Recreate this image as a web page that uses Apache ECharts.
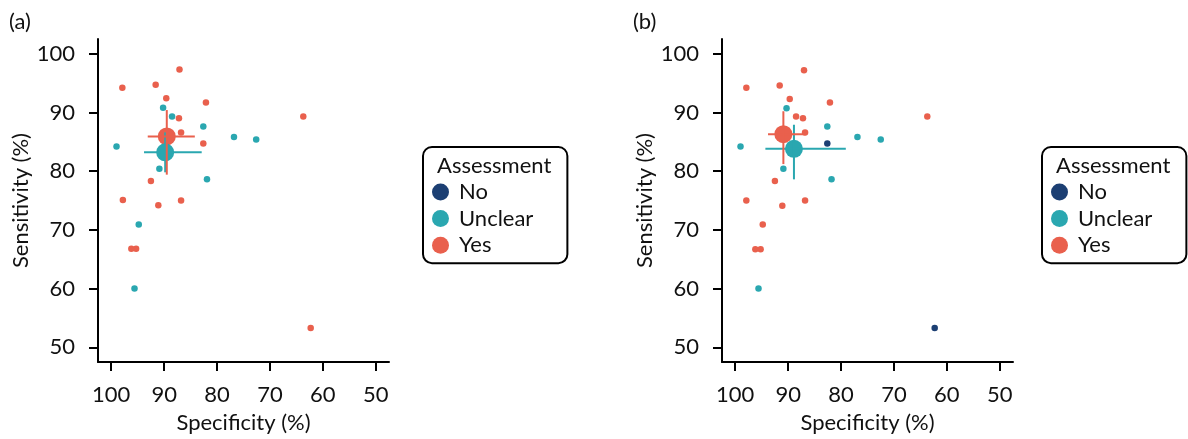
<!DOCTYPE html>
<html>
<head>
<meta charset="utf-8">
<script src="https://cdn.jsdelivr.net/npm/echarts@6/dist/echarts.min.js"></script>
<style>
html,body{margin:0;padding:0;background:#fff;}
#chart{width:1188px;height:439px;}
</style>
</head>
<body>
<div id="chart"></div>
<script>
// ---- data: [specificity %, sensitivity %] ----
const panelLabels = ['(a)', '(b)'];
const groupNames = ['No', 'Unclear', 'Yes'];
const tickValues = [50, 60, 70, 80, 90, 100];

// Panel (a)
const yesA = [[87.1,97.3],[97.9,94.2],[91.6,94.7],[89.6,92.4],[82.1,91.7],[63.7,89.3],[87.2,89.0],[86.8,86.6],[82.6,84.7],[92.5,78.3],[97.8,75.1],[86.8,75.0],[91.1,74.2],[96.2,66.8],[95.3,66.8],[62.3,53.3]];
const unclearA = [[90.2,90.8],[88.5,89.3],[82.6,87.6],[99.0,84.2],[76.8,85.8],[72.6,85.4],[90.9,80.4],[81.9,78.6],[94.8,70.9],[95.6,60.0]];
const noA = [];
// summary: [spec, sens, specLow, specHigh, sensLow, sensHigh]
const summaryYesA = [89.5, 85.9, 84.2, 93.1, 79.4, 90.4];
const summaryUnclearA = [89.8, 83.2, 82.9, 93.8, 79.8, 86.6];

// Panel (b)
const yesB = [[87.0,97.2],[97.9,94.2],[91.6,94.6],[89.7,92.3],[82.1,91.7],[63.7,89.3],[88.5,89.3],[87.2,89.0],[86.8,86.6],[92.5,78.3],[97.9,75.0],[86.8,75.0],[91.1,74.1],[94.8,70.9],[96.2,66.7],[95.2,66.7]];
const unclearB = [[90.3,90.7],[82.6,87.6],[99.0,84.2],[76.9,85.8],[72.5,85.4],[90.9,80.4],[81.8,78.6],[95.6,60.0]];
const noB = [[82.6,84.7],[62.3,53.3]];
const summaryYesB = [90.9, 86.3, 86.7, 93.8, 81.2, 90.2];
const summaryUnclearB = [88.9, 83.8, 79.1, 94.3, 78.6, 87.9];

// ---- styles ----
const COLORS = { No: '#1C3F73', Unclear: '#2AA7B0', Yes: '#E9604D' };
const FONT = 'Lato';
const FS = 22;
const TXT = '#111';

function xAxisFor(i) {
  return {
    gridIndex: i, type: 'value', inverse: true, min: 47.5, max: 102.5,
    name: 'Specificity (%)', nameLocation: 'middle', nameGap: 50,
    nameTextStyle: { fontFamily: FONT, fontSize: FS, color: TXT },
    axisLine: { show: true, onZero: false, lineStyle: { color: '#000', width: 2 } },
    axisTick: { show: true, length: 9, customValues: tickValues, lineStyle: { color: '#000', width: 2 } },
    axisLabel: { customValues: tickValues, margin: 22, fontFamily: FONT, fontSize: FS, color: TXT },
    splitLine: { show: false }
  };
}
function yAxisFor(i) {
  return {
    gridIndex: i, type: 'value', min: 47.5, max: 102.5,
    name: 'Sensitivity (%)', nameLocation: 'middle', nameGap: 66,
    nameTextStyle: { fontFamily: FONT, fontSize: FS, color: TXT },
    axisLine: { show: true, onZero: false, lineStyle: { color: '#000', width: 2 } },
    axisTick: { show: true, length: 9, customValues: tickValues, lineStyle: { color: '#000', width: 2 } },
    axisLabel: { customValues: tickValues, margin: 23, fontFamily: FONT, fontSize: FS, color: TXT },
    splitLine: { show: false }
  };
}
function points(name, data, i) {
  return { name: name, type: 'scatter', xAxisIndex: i, yAxisIndex: i, data: data,
    symbol: 'circle', symbolSize: 6.5, itemStyle: { color: COLORS[name], opacity: 1 }, z: 2, silent: true };
}
function bigPoint(name, s, i) {
  return { name: name + ' summary', type: 'scatter', xAxisIndex: i, yAxisIndex: i, data: [[s[0], s[1]]],
    symbol: 'circle', symbolSize: 18, itemStyle: { color: COLORS[name], opacity: 1 }, z: 3, silent: true };
}
function ciBars(name, s, i) {
  return { name: name + ' CI', type: 'custom', xAxisIndex: i, yAxisIndex: i, data: [s], z: 4, silent: true,
    encode: { x: [0, 2, 3], y: [1, 4, 5] },
    renderItem: function (params, api) {
      const sx = api.value(0), sy = api.value(1);
      const a = api.coord([api.value(2), sy]), b = api.coord([api.value(3), sy]);
      const c = api.coord([sx, api.value(4)]), d = api.coord([sx, api.value(5)]);
      const st = { stroke: COLORS[name], lineWidth: 2 };
      return { type: 'group', children: [
        { type: 'line', shape: { x1: a[0], y1: a[1], x2: b[0], y2: b[1] }, style: st },
        { type: 'line', shape: { x1: c[0], y1: c[1], x2: d[0], y2: d[1] }, style: st }
      ] };
    }
  };
}
function legendFor(left) {
  return {
    data: groupNames, orient: 'vertical', left: left, top: 147,
    icon: 'circle', itemWidth: 27, itemHeight: 17, itemGap: 4.6,
    padding: [34, 34, 7, 9],
    borderColor: '#000', borderWidth: 2, borderRadius: 9, backgroundColor: '#fff',
    textStyle: { fontFamily: FONT, fontSize: FS, color: TXT }, selectedMode: false
  };
}

const chart = echarts.init(document.getElementById('chart'), null, { renderer: 'canvas' });
chart.setOption({
  backgroundColor: '#fff',
  animation: false,
  title: [
    { text: panelLabels[0], left: 9, top: 11, padding: 0, textStyle: { fontFamily: FONT, fontSize: FS, fontWeight: 'normal', color: TXT } },
    { text: panelLabels[1], left: 633, top: 11, padding: 0, textStyle: { fontFamily: FONT, fontSize: FS, fontWeight: 'normal', color: TXT } }
  ],
  grid: [
    { left: 98, top: 39, width: 291, height: 326 },
    { left: 722, top: 39, width: 291, height: 326 }
  ],
  xAxis: [xAxisFor(0), xAxisFor(1)],
  yAxis: [yAxisFor(0), yAxisFor(1)],
  legend: [legendFor(423), legendFor(1042)],
  graphic: [
    { type: 'text', left: 437, top: 155, z: 100, style: { text: 'Assessment', font: FS + 'px ' + FONT, fill: TXT } },
    { type: 'text', left: 1056, top: 155, z: 100, style: { text: 'Assessment', font: FS + 'px ' + FONT, fill: TXT } }
  ],
  series: [
    points('No', noB, 1),
    points('Unclear', unclearA, 0),
    points('Yes', yesA, 0),
    points('No', noA, 0),
    points('Unclear', unclearB, 1),
    points('Yes', yesB, 1),
    bigPoint('Yes', summaryYesA, 0),
    bigPoint('Unclear', summaryUnclearA, 0),
    ciBars('Unclear', summaryUnclearA, 0),
    ciBars('Yes', summaryYesA, 0),
    bigPoint('Yes', summaryYesB, 1),
    bigPoint('Unclear', summaryUnclearB, 1),
    ciBars('Unclear', summaryUnclearB, 1),
    ciBars('Yes', summaryYesB, 1)
  ]
});
</script>
</body>
</html>
